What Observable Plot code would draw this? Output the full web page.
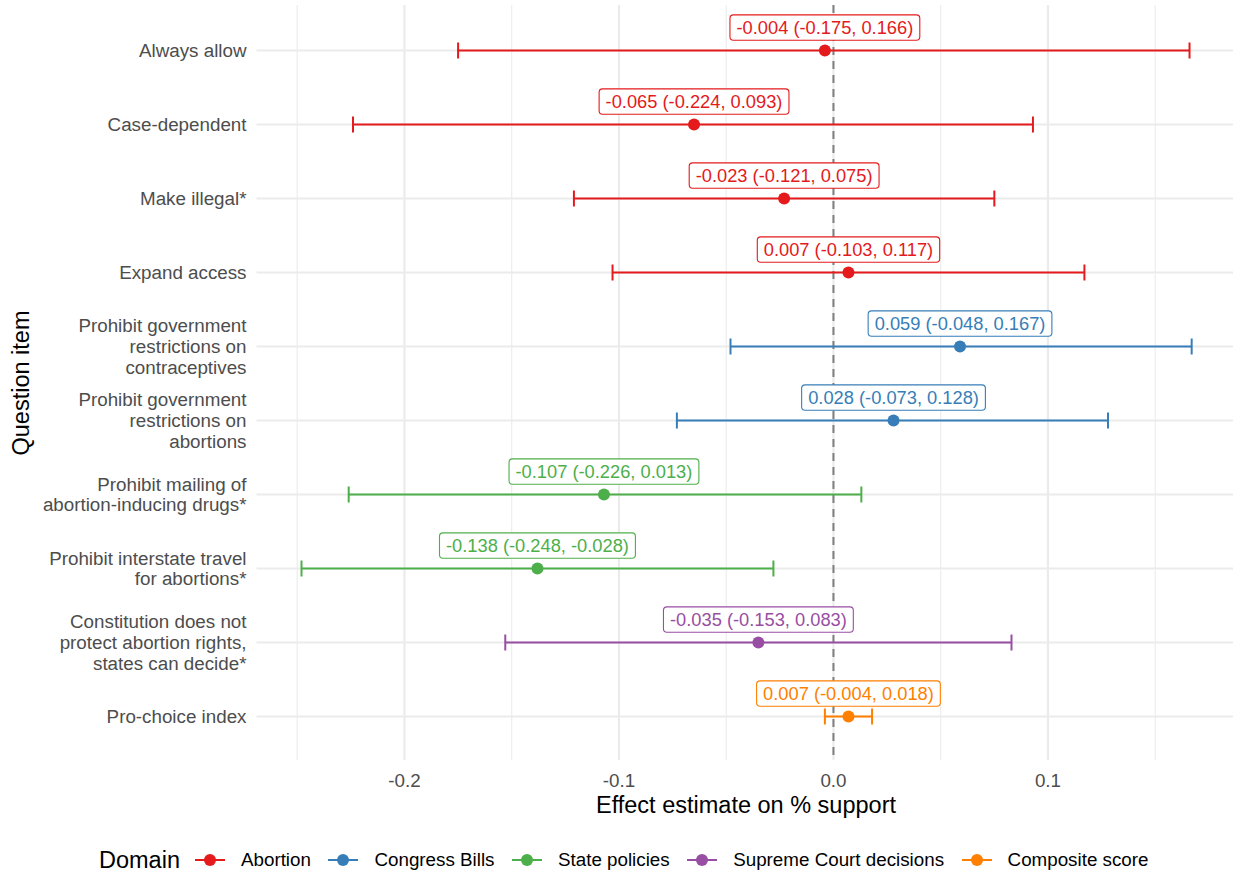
<!DOCTYPE html>
<html>
<head>
<meta charset="utf-8">
<script src="https://cdn.jsdelivr.net/npm/d3@7"></script>
<script src="https://cdn.jsdelivr.net/npm/@observablehq/plot@0.6"></script>
<style>
  html, body { margin: 0; padding: 0; background: #fff; }
  #wrap { position: relative; width: 1233px; height: 876px; overflow: hidden;
          font-family: "Liberation Sans", Arial, Helvetica, sans-serif; }
  #wrap > svg { position: absolute; left: 0; top: 0; }
  #xtitle { position: absolute; left: 256px; width: 980px; top: 791px; height: 28px; line-height: 28px;
            text-align: center; font-size: 23.5px; color: #000; }
  #legend { position: absolute; left: 99px; top: 846px; height: 28px; display: flex; align-items: center; }
  #legend .title { font-size: 23.5px; color: #000; margin-right: 15px; }
  #legend .lab { font-size: 18.8px; color: #000; margin-left: 16px; margin-right: 17.5px; }
  #legend svg { position: static; }
</style>
</head>
<body>
<div id="wrap"></div>
<script>
// ---- data ----
const items = [
  "Always allow",
  "Case-dependent",
  "Make illegal*",
  "Expand access",
  "Prohibit government\nrestrictions on\ncontraceptives",
  "Prohibit government\nrestrictions on\nabortions",
  "Prohibit mailing of\nabortion-inducing drugs*",
  "Prohibit interstate travel\nfor abortions*",
  "Constitution does not\nprotect abortion rights,\nstates can decide*",
  "Pro-choice index"
];
const domains = [
  "Abortion", "Abortion", "Abortion", "Abortion",
  "Congress Bills", "Congress Bills",
  "State policies", "State policies",
  "Supreme Court decisions",
  "Composite score"
];
const estimates = [-0.004, -0.065, -0.023, 0.007, 0.059, 0.028, -0.107, -0.138, -0.035, 0.007];
const lowers    = [-0.175, -0.224, -0.121, -0.103, -0.048, -0.073, -0.226, -0.248, -0.153, -0.004];
const uppers    = [ 0.166,  0.093,  0.075,  0.117,  0.167,  0.128,  0.013, -0.028,  0.083,  0.018];
const domainNames  = ["Abortion", "Congress Bills", "State policies", "Supreme Court decisions", "Composite score"];
const domainColors = ["#E41A1C", "#377EB8", "#4DAF4A", "#984EA3", "#FF7F00"];
const xMajorTicks = [-0.2, -0.1, 0, 0.1];
const xMinorTicks = [-0.25, -0.15, -0.05, 0.05, 0.15];
const xDomain = [-0.26875, 0.1865];
const xTitle = "Effect estimate on % support";
const yTitle = "Question item";
const legendTitle = "Domain";

// ---- table ----
const rows = items.map((item, i) => ({
  item,
  domain: domains[i],
  est: estimates[i],
  lo: lowers[i],
  hi: uppers[i],
  label: `${estimates[i].toFixed(3)} (${lowers[i].toFixed(3)}, ${uppers[i].toFixed(3)})`
}));

const capSymbol = { draw(ctx) { ctx.moveTo(0, -8); ctx.lineTo(0, 8); } };
const grid = "#EBEBEB";
const axisGray = "#4D4D4D";

const plot = Plot.plot({
  width: 1233,
  height: 792,
  marginLeft: 256.5,
  marginRight: 0,
  marginTop: 5,
  marginBottom: 32,
  style: { fontFamily: '"Liberation Sans", Arial, Helvetica, sans-serif', background: "white" },
  x: { domain: xDomain },
  y: { type: "point", domain: items, padding: 0.6 },
  color: { domain: domainNames, range: domainColors },
  marks: [
    Plot.ruleX(xMinorTicks, { stroke: grid, strokeWidth: 1.1 }),
    Plot.ruleX(xMajorTicks, { stroke: grid, strokeWidth: 2.2 }),
    Plot.ruleY(items, { stroke: grid, strokeWidth: 2.2 }),
    Plot.ruleX([0], { stroke: "#7F7F7F", strokeWidth: 2, strokeDasharray: "8,6" }),
    Plot.ruleY(rows, { y: "item", x1: "lo", x2: "hi", stroke: "domain", strokeWidth: 2 }),
    Plot.dot(rows, { x: "lo", y: "item", symbol: capSymbol, stroke: "domain", fill: "none", strokeWidth: 2 }),
    Plot.dot(rows, { x: "hi", y: "item", symbol: capSymbol, stroke: "domain", fill: "none", strokeWidth: 2 }),
    Plot.dot(rows, { x: "est", y: "item", r: 6, fill: "domain", stroke: null }),
    Plot.text(rows, { x: "est", y: "item", text: "label", fill: "domain", dy: -22.3, fontSize: 18.3 }),
    Plot.axisX({ ticks: xMajorTicks, tickFormat: d => d.toFixed(1), tickSize: 0, tickPadding: 13,
                 fontSize: 18.8, color: axisGray, label: null }),
    Plot.axisY({ tickSize: 0, tickPadding: 10.5, fontSize: 18.8, color: axisGray, label: null, lineHeight: 1.1 }),
    Plot.text([yTitle], { frameAnchor: "left", textAnchor: "middle", dx: -236, rotate: -90, fontSize: 23.5,
                          fill: "black", text: d => d })
  ]
});

const wrap = document.getElementById("wrap");
wrap.appendChild(plot);

// label boxes (geom_label style): find the text group holding the estimate labels
const labelSet = new Set(rows.map(d => d.label));
const texts = Array.from(plot.querySelectorAll("text")).filter(t => labelSet.has(t.textContent));
texts.forEach(t => {
  const b = t.getBBox();
  const padX = 6.5, padY = 2.2;
  const r = document.createElementNS("http://www.w3.org/2000/svg", "rect");
  r.setAttribute("x", b.x - padX);
  r.setAttribute("y", b.y - padY);
  r.setAttribute("width", b.width + 2 * padX);
  r.setAttribute("height", b.height + 2 * padY);
  r.setAttribute("rx", 3.5);
  const tr = t.getAttribute("transform");
  if (tr) r.setAttribute("transform", tr);
  r.setAttribute("fill", "white");
  r.setAttribute("stroke", t.getAttribute("fill") || getComputedStyle(t).fill);
  r.setAttribute("stroke-width", 1.1);
  t.parentNode.insertBefore(r, t);
});

// x axis title
const xt = document.createElement("div");
xt.id = "xtitle";
xt.textContent = xTitle;
wrap.appendChild(xt);

// legend
const leg = document.createElement("div");
leg.id = "legend";
const lt = document.createElement("span");
lt.className = "title";
lt.textContent = legendTitle;
leg.appendChild(lt);
domainNames.forEach((name, i) => {
  const c = domainColors[i];
  const key = document.createElementNS("http://www.w3.org/2000/svg", "svg");
  key.setAttribute("width", 30);
  key.setAttribute("height", 20);
  key.innerHTML = `<line x1="0" x2="30" y1="10" y2="10" stroke="${c}" stroke-width="2"/><circle cx="15" cy="10" r="6" fill="${c}"/>`;
  leg.appendChild(key);
  const s = document.createElement("span");
  s.className = "lab";
  s.textContent = name;
  leg.appendChild(s);
});
wrap.appendChild(leg);
</script>
</body>
</html>
